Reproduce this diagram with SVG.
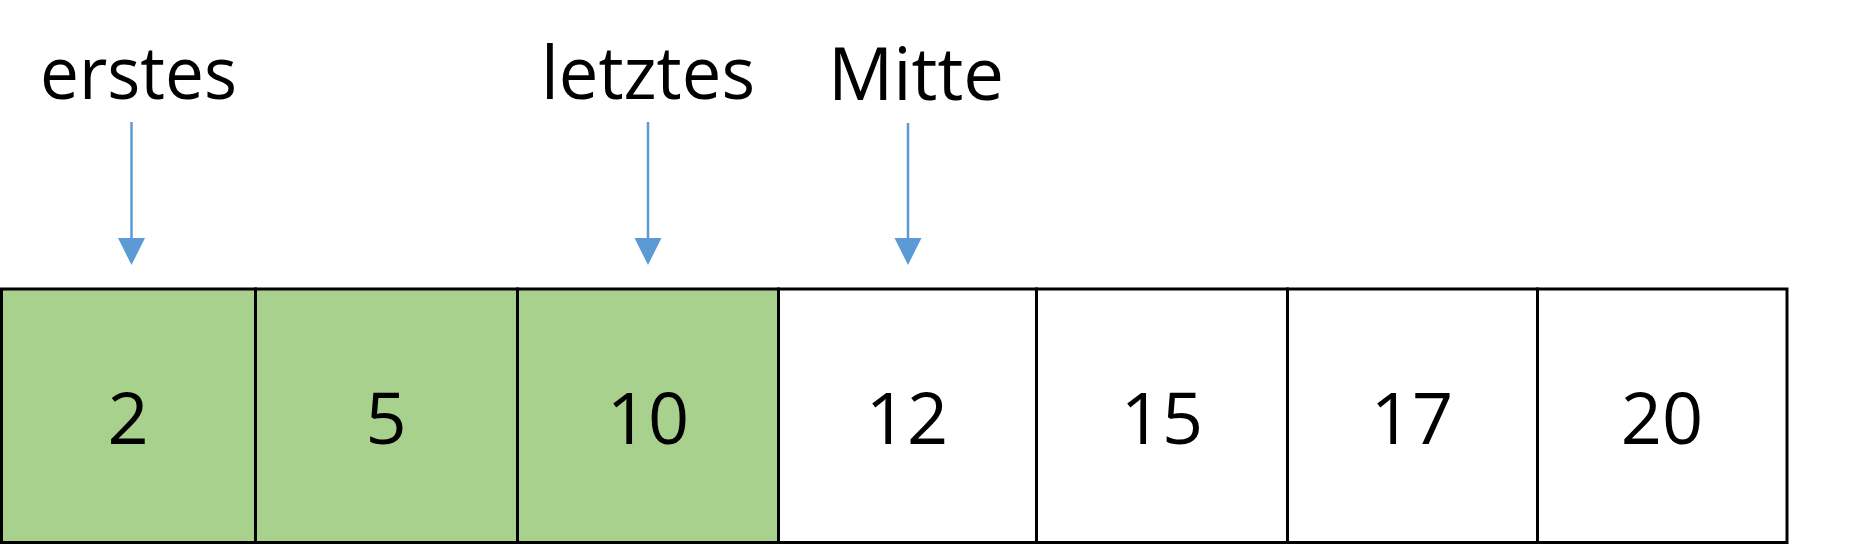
<svg xmlns="http://www.w3.org/2000/svg" width="1876" height="544" viewBox="0 0 1876 544">
<style>
.lbl{font-family:"Open Sans","Liberation Sans",sans-serif;font-size:74px;fill:#000}
.num{font-family:"Open Sans","Liberation Sans",sans-serif;font-size:72px;fill:#000;text-anchor:middle}
.cell{stroke:#000;stroke-width:3}
.g{fill:#A9D18E}
.w{fill:#FFFFFF}
.arr{stroke:#5B9BD5;stroke-width:2.5;fill:none}
.head{fill:#5B9BD5}
</style>
<rect width="1876" height="544" fill="#FFFFFF"/>
<g id="label-erstes"><text class="lbl" x="40" y="99" textLength="197" lengthAdjust="spacingAndGlyphs">erstes</text></g>
<g id="label-letztes"><text class="lbl" x="541" y="99" textLength="214" lengthAdjust="spacingAndGlyphs">letztes</text></g>
<g id="label-mitte"><text class="lbl" x="828" y="100" textLength="176" lengthAdjust="spacingAndGlyphs">Mitte</text></g>
<g id="connectors">
<line class="arr" x1="131.5" y1="122" x2="131.5" y2="240"/>
<polygon class="head" points="118,238 145,238 131.5,265"/>
<line class="arr" x1="648" y1="122" x2="648" y2="240"/>
<polygon class="head" points="634.5,238 661.5,238 648,265"/>
<line class="arr" x1="908" y1="123" x2="908" y2="240"/>
<polygon class="head" points="894.5,238 921.5,238 908,265"/>
</g>
<g id="cell-2"><rect class="cell g" x="1.5" y="289" width="254" height="253.5"/><text class="num" x="128" y="444">2</text></g>
<g id="cell-5"><rect class="cell g" x="255.5" y="289" width="262" height="253.5"/><text class="num" x="386" y="444">5</text></g>
<g id="cell-10"><rect class="cell g" x="517.5" y="289" width="261" height="253.5"/><text class="num" x="648" y="444">10</text></g>
<g id="cell-12"><rect class="cell w" x="778.5" y="289" width="258" height="253.5"/><text class="num" x="907" y="444">12</text></g>
<g id="cell-15"><rect class="cell w" x="1036.5" y="289" width="251" height="253.5"/><text class="num" x="1162" y="444">15</text></g>
<g id="cell-17"><rect class="cell w" x="1287.5" y="289" width="250" height="253.5"/><text class="num" x="1412" y="444">17</text></g>
<g id="cell-20"><rect class="cell w" x="1537.5" y="289" width="249.5" height="253.5"/><text class="num" x="1662" y="444">20</text></g>
</svg>
